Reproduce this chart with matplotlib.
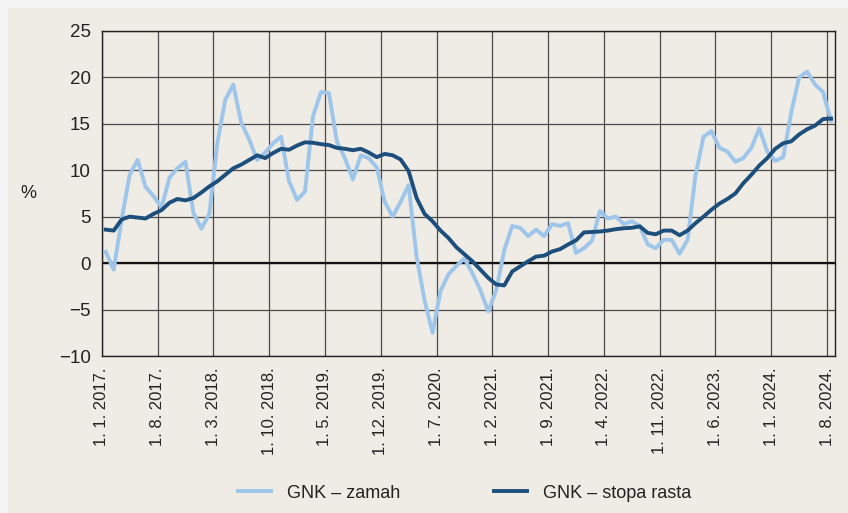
import matplotlib.pyplot as plt
from matplotlib.patches import Rectangle

# monthly values, 1/2017 - 8/2024
zamah = [1.2, -0.7, 4.7, 9.5, 11.1, 8.2, 7.2, 6.0, 9.2, 10.2, 10.9, 5.4,
         3.7, 5.3, 12.9, 17.6, 19.2, 15.1, 13.3, 11.1, 11.9, 12.9, 13.6, 8.8,
         6.8, 7.7, 15.8, 18.4, 18.3, 13.1, 11.3, 9.0, 11.6, 11.3, 10.3, 6.6,
         5.0, 6.6, 8.4, 0.7, -4.0, -7.5, -3.0, -1.2, -0.3, 0.5, -1.1, -2.9,
         -5.2, -2.9, 1.4, 4.0, 3.8, 2.9, 3.6, 2.9, 4.2, 4.0, 4.3, 1.1,
         1.6, 2.4, 5.6, 4.8, 5.0, 4.2, 4.5, 4.0, 2.0, 1.6, 2.5, 2.5,
         1.0, 2.5, 9.5, 13.6, 14.2, 12.4, 12.0, 10.9, 11.3, 12.4, 14.5, 12.0,
         11.0, 11.4, 16.2, 20.0, 20.6, 19.2, 18.4, 15.3]
stopa = [3.6, 3.5, 4.7, 5.0, 4.9, 4.8, 5.3, 5.7, 6.5, 6.9, 6.75, 7.0,
         7.6, 8.25, 8.8, 9.5, 10.2, 10.6, 11.1, 11.6, 11.3, 11.85, 12.3, 12.2,
         12.65, 13.0, 12.95, 12.8, 12.7, 12.4, 12.3, 12.15, 12.3, 11.9, 11.4, 11.75,
         11.6, 11.15, 9.9, 7.0, 5.3, 4.5, 3.5, 2.7, 1.7, 0.95, 0.2, -0.7,
         -1.6, -2.3, -2.4, -0.9, -0.35, 0.2, 0.7, 0.8, 1.25, 1.5, 2.0, 2.45,
         3.3, 3.35, 3.4, 3.5, 3.65, 3.75, 3.8, 3.95, 3.25, 3.1, 3.5, 3.5,
         3.0, 3.5, 4.3, 5.0, 5.75, 6.4, 6.9, 7.5, 8.6, 9.5, 10.5, 11.3,
         12.3, 12.9, 13.1, 13.85, 14.4, 14.8, 15.5, 15.55]
tick_labels = ["1. 1. 2017.", "1. 8. 2017.", "1. 3. 2018.", "1. 10. 2018.",
               "1. 5. 2019.", "1. 12. 2019.", "1. 7. 2020.", "1. 2. 2021.",
               "1. 9. 2021.", "1. 4. 2022.", "1. 11. 2022.", "1. 6. 2023.",
               "1. 1. 2024.", "1. 8. 2024."]
yticks = [-10, -5, 0, 5, 10, 15, 20, 25]

plt.rcParams["font.family"] = ["Liberation Sans", "DejaVu Sans"]

bg = "#efebe5"
fig = plt.figure(figsize=(8.48, 5.13), dpi=100, facecolor="#f3f3f3")
fig.patches.append(Rectangle((8 / 848, 0), 1, 1 - 8 / 513, transform=fig.transFigure,
                             facecolor=bg, edgecolor="none", zorder=-10))
ax = fig.add_axes([0.12, 0.306, 0.8647, 0.634])
ax.set_facecolor(bg)

x = [i + 0.5 for i in range(len(zamah))]
ax.plot(x, zamah, color="#9dc6ea", lw=2.8, label="GNK – zamah", zorder=3)
ax.plot(x, stopa, color="#1d4f7c", lw=2.8, label="GNK – stopa rasta", zorder=4)

ax.set_xlim(0, 92)
ax.set_ylim(-10, 25)
ax.set_xticks(range(0, 92, 7))
ax.set_xticklabels(tick_labels, rotation=90, fontsize=12)
ax.set_yticks(yticks)
ax.set_yticklabels(["\u221210", "\u22125", "0", "5", "10", "15", "20", "25"], fontsize=13.5)
ax.tick_params(length=0, pad=8, colors="#222222")
ax.grid(True, color="#4a4a4a", lw=0.9)
ax.axhline(0, color="#111111", lw=1.6, zorder=2)
for s in ax.spines.values():
    s.set_color("#222222")
    s.set_linewidth(1.0)

fig.text(20 / 848, 1 - 193 / 513, "%", fontsize=13, ha="left", va="center", color="#222222")

fig.legend(loc="center", bbox_to_anchor=(0.548, 1 - 493 / 513), ncol=2, frameon=False,
           fontsize=13, handlelength=1.8, handletextpad=0.9, columnspacing=5.2,
           labelcolor="#222222")

fig.savefig("out.png", dpi=100, facecolor=fig.get_facecolor())
